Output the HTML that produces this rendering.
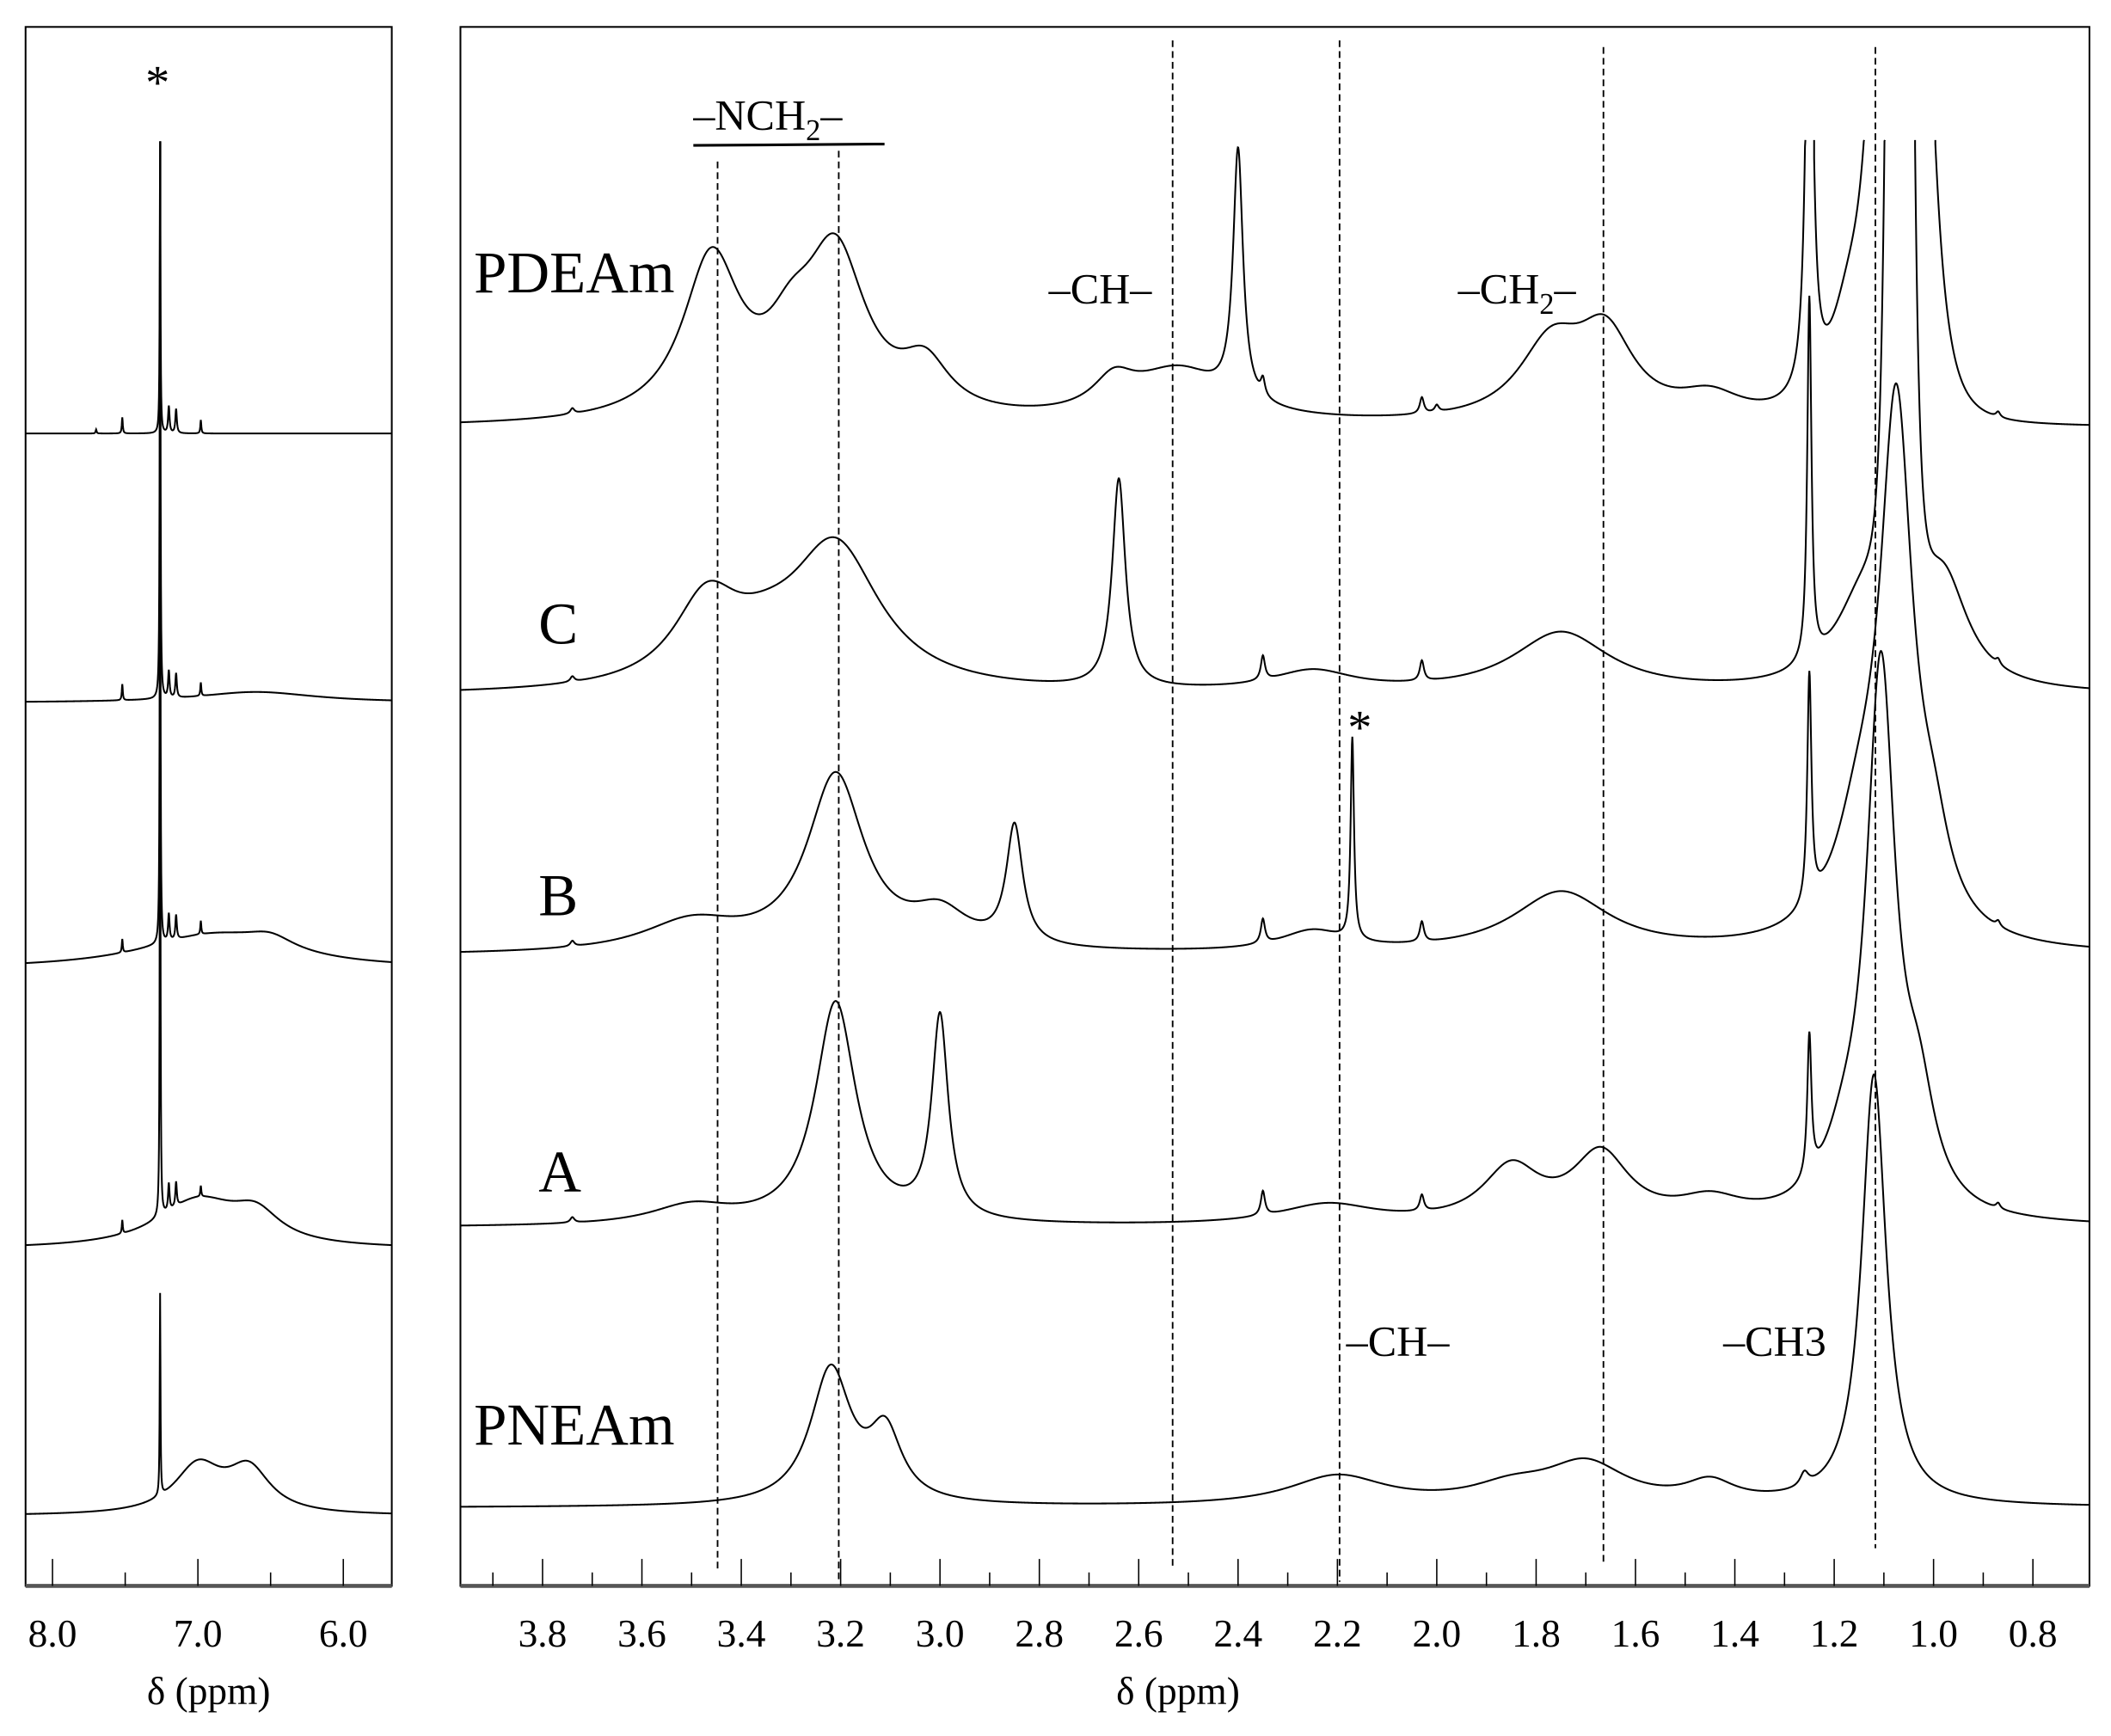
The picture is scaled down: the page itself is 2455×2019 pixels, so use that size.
<!DOCTYPE html>
<html><head><meta charset="utf-8"><style>
html,body{margin:0;padding:0;background:#fff}
svg{display:block}
text{font-family:"Liberation Serif",serif;fill:#000}
</style></head><body>
<svg id="s" width="2455" height="2019" viewBox="0 0 1568 1289.5" preserveAspectRatio="none" xmlns="http://www.w3.org/2000/svg">
<defs>
<clipPath id="cl"><rect x="19" y="20" width="272" height="1158"/></clipPath>
<clipPath id="cr"><rect x="342" y="20" width="1210" height="1158"/></clipPath>
</defs>
<rect x="19" y="20" width="272" height="1158" fill="none" stroke="#000" stroke-width="1.3"/>
<rect x="342" y="20" width="1210" height="1158" fill="none" stroke="#000" stroke-width="1.3"/>
<line x1="19" y1="1178" x2="291" y2="1178" stroke="#555" stroke-width="3"/>
<line x1="342" y1="1178" x2="1552" y2="1178" stroke="#555" stroke-width="3"/>
<g id="ticks" stroke="#000" stroke-width="1"></g>
<g id="dash" stroke="#000" stroke-width="1.2" stroke-dasharray="5,3"></g>
<g id="spec" fill="none" stroke="#000" stroke-width="1.3"></g>
<g font-size="29" text-anchor="middle" id="tl"></g>
<text x="155" y="1266" font-size="29" text-anchor="middle">δ (ppm)</text>
<text x="875" y="1266" font-size="29" text-anchor="middle">δ (ppm)</text>
<g font-size="44">
<text x="352" y="217">PDEAm</text>
<text x="400" y="478">C</text>
<text x="400" y="680">B</text>
<text x="400" y="885">A</text>
<text x="352" y="1073">PNEAm</text>
</g>
<g font-size="32">
<text x="515" y="96">–NCH<tspan font-size="22" dy="8">2</tspan><tspan dy="-8">–</tspan></text>
<text x="779" y="225">–CH–</text>
<text x="1083" y="225">–CH<tspan font-size="22" dy="8">2</tspan><tspan dy="-8">–</tspan></text>
<text x="1000" y="1007">–CH–</text>
<text x="1280" y="1007">–CH3</text>
<text x="108" y="73" font-size="36">*</text>
<text x="1001" y="552" font-size="36">*</text>
</g>
<line x1="515" y1="108" x2="657" y2="107" stroke="#000" stroke-width="2"/>
</svg>
<script>
var NS="http://www.w3.org/2000/svg";
function el(p,n,a){var e=document.createElementNS(NS,n);for(var k in a)e.setAttribute(k,a[k]);p.appendChild(e);return e;}
var xr=function(p){return 403+(3.8-p)*369;};
var xl=function(p){return 39+(8.0-p)*108;};
var T=document.getElementById('ticks'),TL=document.getElementById('tl');
for(var i=0;i<=31;i++){var p=3.9-i*0.1;var x=xr(p);if(x<342||x>1552)continue;var maj=Math.abs(Math.round(p*10)%2)==0;
el(T,'line',{x1:x,y1:1178,x2:x,y2:maj?1158:1168});
if(maj){var t=el(TL,'text',{x:x,y:1223});t.textContent=p.toFixed(1);}}
for(var i=0;i<=4;i++){var p=8.0-i*0.5;var x=xl(p);var maj=i%2==0;
el(T,'line',{x1:x,y1:1178,x2:x,y2:maj?1158:1168});
if(maj){var t=el(TL,'text',{x:x,y:1223});t.textContent=p.toFixed(1);}}
var D=document.getElementById('dash');
[[533,120,1165],[623,112,1175],[871,30,1165],[995,30,1175],[1191,35,1160],[1393,35,1150]].forEach(function(d){el(D,'line',{x1:d[0],y1:d[1],x2:d[0],y2:d[2]});});
var S=document.getElementById('spec');
function spec(fx,p0,p1,base,peaks,clip,top,step){
 var segs=[],cur=[],wasClipped=false;
 for(var p=p0;p>=p1;p-=step){var y=base;for(var j=0;j<peaks.length;j++){var k=peaks[j];var u=Math.abs((p-k[0])/k[2]);var n=k[3]||2;y-=k[1]/(1+Math.pow(u,n));}
  if(y<top){ if(cur.length){cur.push(fx(p).toFixed(2)+','+top);segs.push(cur);cur=[];} wasClipped=true; continue;}
  if(wasClipped&&!cur.length){cur.push(fx(p).toFixed(2)+','+top);wasClipped=false;}
  cur.push(fx(p).toFixed(2)+','+y.toFixed(2));}
 if(cur.length)segs.push(cur);
 segs.forEach(function(s){el(S,'polyline',{points:s.join(' '),'clip-path':'url(#'+clip+')'});});
}
var st=0.0008;
// PDEAm
spec(xr,3.97,0.68,318,[[3.46,118,0.07],[3.3,40,0.06],[3.21,118,0.075],[3.03,35,0.06],[2.65,22,0.05],[2.52,38,0.12],[2.40,185,0.012],[2.35,12,0.005],[2.03,12,0.005],[2.0,5,0.005],[1.77,55,0.08],[1.66,60,0.07],[1.45,18,0.08],[1.25,400,0.008],[1.17,70,0.05],[1.065,600,0.058,4],[0.87,4,0.005],[3.74,4,0.005]],'cr',104,st);
// C
spec(xr,3.97,0.68,517,[[3.47,60,0.08],[3.21,105,0.11],[3.35,20,0.1],[2.64,155,0.016],[2.35,18,0.005],[2.25,15,0.1],[2.03,15,0.005],[1.75,45,0.12],[1.25,270,0.005],[1.14,70,0.07],[1.068,1500,0.0227,4],[0.98,80,0.06],[0.87,4,0.005],[3.74,4,0.005]],'cr',104,st);
// B
spec(xr,3.97,0.68,710,[[3.5,22,0.12],[3.21,130,0.07],[3.0,25,0.07],[2.85,88,0.02],[2.35,18,0.005],[2.25,15,0.08],[2.17,150,0.004],[2.03,15,0.005],[1.75,45,0.12],[1.25,170,0.005],[1.15,70,0.06],[1.075,385,0.04],[1.0,50,0.04],[0.87,4,0.005],[3.74,4,0.005]],'cr',104,st);
// A
spec(xr,3.97,0.68,912,[[3.5,14,0.1],[3.21,165,0.05],[3.0,150,0.02],[2.35,18,0.005],[2.22,15,0.12],[2.03,12,0.005],[1.85,40,0.07],[1.67,50,0.07],[1.45,15,0.08],[1.25,105,0.005],[1.18,35,0.05],[1.106,400,0.035],[1.03,70,0.04],[0.87,4,0.005],[3.74,4,0.005]],'cr',104,st);
// PNEAm
spec(xr,3.97,0.68,1120,[[3.22,100,0.05],[3.11,50,0.04],[2.2,22,0.12],[1.85,12,0.1],[1.7,30,0.1],[1.45,15,0.06],[1.26,10,0.01],[1.12,320,0.03]],'cr',104,st);
// left panel
var sl=0.002;
spec(xl,8.3,5.6,322,[[7.26,220,0.003],[7.52,12,0.004],[7.2,20,0.006],[7.15,18,0.006],[6.98,10,0.004],[7.7,3,0.004]],'cl',105,sl);
spec(xl,8.3,5.6,522,[[7.26,420,0.003],[7.52,12,0.004],[7.2,20,0.006],[7.15,18,0.006],[6.98,10,0.004],[6.6,8,0.5]],'cl',105,sl);
spec(xl,8.3,5.6,720,[[7.26,420,0.003],[7.52,10,0.004],[7.2,20,0.006],[7.15,18,0.006],[6.98,10,0.004],[6.9,25,0.6],[6.5,10,0.2]],'cl',105,sl);
spec(xl,8.3,5.6,928,[[7.26,420,0.003],[7.52,10,0.004],[7.2,20,0.006],[7.15,18,0.006],[6.98,8,0.004],[7.0,35,0.35],[6.6,20,0.2]],'cl',105,sl);
spec(xl,8.3,5.6,1126,[[7.26,150,0.003],[7.0,35,0.2],[6.65,32,0.18]],'cl',105,sl);
</script>
</body></html>
